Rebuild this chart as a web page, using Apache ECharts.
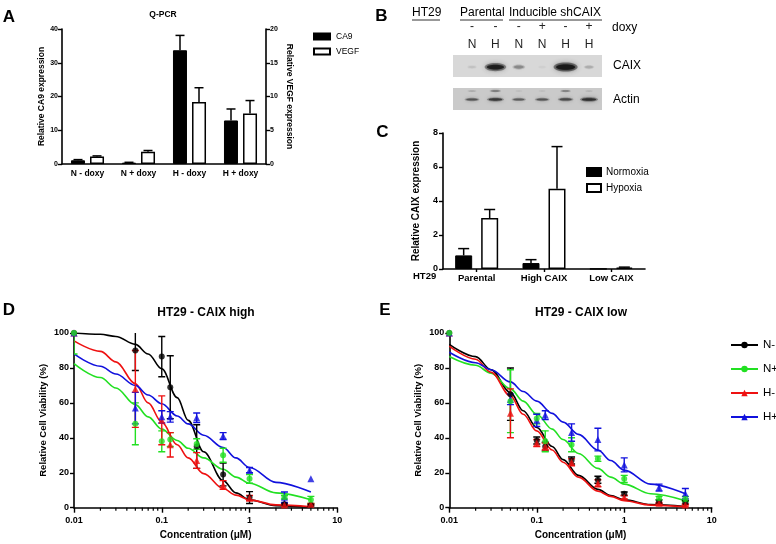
<!DOCTYPE html>
<html><head><meta charset="utf-8">
<script src="https://cdn.jsdelivr.net/npm/echarts@6/dist/echarts.min.js"></script>
<style>html,body{margin:0;padding:0;background:#fff}#c{width:776px;height:544px}</style>
</head><body><div id="c"></div>
<script>
// ---------- Panel A : Q-PCR ----------
var qpcrCats = ['N - doxy', 'N + doxy', 'H - doxy', 'H + doxy'];
var ca9 = [1.1, 0.4, 33.7, 12.9];
var ca9Err = [0.2, 0.1, 4.4, 3.4];
var vegf = [1.1, 1.8, 9.2, 7.5];
var vegfErr = [0.1, 0.2, 2.1, 1.9];

// ---------- Panel B : western blot ----------
var laneDoxy = ['-', '-', '-', '+', '-', '+'];
var laneCond = ['N', 'H', 'N', 'N', 'H', 'H'];
var caixBand = [0.08, 0.85, 0.28, 0.03, 1.0, 0.15];
var actinBand = [0.5, 0.65, 0.45, 0.5, 0.55, 0.72];
var actinUpper = [0.15, 0.35, 0.06, 0.06, 0.32, 0.1];

// ---------- Panel C ----------
var caixCats = ['Parental', 'High CAIX', 'Low CAIX'];
var normoxia = [0.8, 0.35, 0.01];
var normoxiaErr = [0.4, 0.2, 0];
var hypoxia = [3.0, 4.72, 0.08];
var hypoxiaErr = [0.5, 2.48, 0.03];

// ---------- Panels D / E ----------
var conc = [0.01, 0.05, 0.1, 0.125, 0.25, 0.5, 1, 2.5, 5];
var fitConc = [0.01, 0.02, 0.03, 0.05, 0.07, 0.1, 0.15, 0.2, 0.3, 0.5, 0.7, 1, 2, 5];
var minorTicks = [0.02,0.03,0.04,0.05,0.06,0.07,0.08,0.09,0.2,0.3,0.4,0.5,0.6,0.7,0.8,0.9,2,3,4,5,6,7,8,9];

// D: HT29 - CAIX high
var dNminus = [100, 90, 86.5, 69, 35, 19, 5.8, 2, 1.5];
var dNminusErr = [0, 11.5, 11.5, 18, 12.5, 6.5, 3.4, 0.5, 0.5];
var dNplus = [100, 48, 38, 39, 36.5, 30, 16.5, 6, 4.5];
var dNplusErr = [12, 12, 6, 4, 3, 4, 2.5, 1, 2];
var dHminus = [100, 68, 50, 36, 27, 13, 5.5, 1.5, 2];
var dHminusErr = [0, 22, 14, 7, 4.5, 2.5, 1.5, 0.5, 0.5];
var dHplus = [100, 57, 52, 52, 51.5, 41, 21.5, 6, 16.5];
var dHplusErr = [0, 9, 3.5, 3, 2.7, 2, 1.5, 3, 0];
var dFitNminus = [100, 99.3, 98, 93.5, 88, 79.5, 63, 50, 32, 15.5, 8.5, 4.5, 1.2, 0.3];
var dFitNplus = [82.5, 74.5, 68.5, 59, 52, 45, 38.5, 34, 28.5, 22, 17.5, 14, 8.5, 4.5];
var dFitHminus = [95.5, 89.5, 83.5, 71, 60, 49, 36, 28.5, 19.5, 11, 7.2, 4.5, 1.6, 0.5];
var dFitHplus = [88, 81, 76.5, 70, 64.5, 59.5, 52.5, 48, 41.5, 34.5, 28.5, 23, 14.5, 9];

// E: HT29 - CAIX low
var eNminus = [100, 65, 38.5, 35, 27, 16, 8, 3.5, 3];
var eNminusErr = [0, 15, 2, 2.5, 2, 2, 1, 1, 1];
var eNplus = [100, 61, 51, 38, 36, 28, 16.5, 5.5, 5];
var eNplusErr = [0, 18, 3, 6, 4, 1.5, 2, 1, 1.5];
var eHminus = [100, 54, 37, 35, 26, 14, 6, 2.5, 1.5];
var eHminusErr = [0, 14, 2, 2, 2, 2, 1, 0.5, 0.5];
var eHplus = [100, 62, 50, 53, 43, 39, 24.5, 11.5, 8];
var eHplusErr = [0, 3, 3.5, 2.5, 5, 6.5, 4, 2, 3];
var eFitNminus = [93.5, 86.5, 79, 66, 55.5, 46, 35, 27.5, 18.5, 10.5, 7, 4.5, 1.8, 0.7];
var eFitNplus = [86.5, 81.5, 77, 68, 61, 53.5, 45, 39, 31, 22.5, 17.5, 13.5, 8, 4];
var eFitHminus = [92.5, 85, 77.5, 64, 53.5, 44, 33, 26, 17.5, 9.5, 6.5, 4, 1.5, 0.5];
var eFitHplus = [89, 83, 79, 72, 66.5, 61, 54, 49, 42, 33, 27, 21.5, 13.5, 8];

var groupNames = ['N-', 'N+', 'H-', 'H+'];
var groupColors = ['#000000', '#22e022', '#ee1111', '#1111dd'];
var groupSymbols = ['circle', 'circle', 'triangle', 'triangle'];

// ---------- helpers ----------
var F = "'Liberation Sans', Arial, Helvetica, sans-serif";
function zip(a, b) { return a.map(function (v, i) { return [b[i], v]; }); }
function zip3(x, y, e) { return x.map(function (v, i) { return [v, y[i], e[i]]; }); }
function idx3(y, e) { return y.map(function (v, i) { return [i, v, e[i]]; }); }

function barErr(name, xi, yi, vals, errs, off, cap) {
  return {
    name: name, type: 'custom', xAxisIndex: xi, yAxisIndex: yi, silent: true, z: 5,
    data: idx3(vals, errs),
    renderItem: function (params, api) {
      var e = api.value(2); if (!e) return;
      var lo = api.coord([api.value(0), api.value(1)]);
      var hi = api.coord([api.value(0), api.value(1) + e]);
      var x = lo[0] + off, st = { stroke: '#000', lineWidth: 1.5 };
      return { type: 'group', children: [
        { type: 'line', shape: { x1: x, y1: lo[1], x2: x, y2: hi[1] }, style: st },
        { type: 'line', shape: { x1: x - cap / 2, y1: hi[1], x2: x + cap / 2, y2: hi[1] }, style: st }
      ] };
    }
  };
}
function ptErr(name, xi, yi, vals, errs, color) {
  return {
    name: name, type: 'custom', xAxisIndex: xi, yAxisIndex: yi, silent: true, z: 3, clip: true,
    data: zip3(conc, vals, errs),
    renderItem: function (params, api) {
      var e = api.value(2); if (!e) return;
      var lo = api.coord([api.value(0), api.value(1) - e]);
      var hi = api.coord([api.value(0), api.value(1) + e]);
      var st = { stroke: color, lineWidth: 1.4 }, c = 3.5;
      return { type: 'group', children: [
        { type: 'line', shape: { x1: lo[0], y1: lo[1], x2: hi[0], y2: hi[1] }, style: st },
        { type: 'line', shape: { x1: hi[0] - c, y1: hi[1], x2: hi[0] + c, y2: hi[1] }, style: st },
        { type: 'line', shape: { x1: lo[0] - c, y1: lo[1], x2: lo[0] + c, y2: lo[1] }, style: st }
      ] };
    }
  };
}
function band(name, xi, yi, levels, yFrac, baseW, baseH) {
  return {
    name: name, type: 'custom', xAxisIndex: xi, yAxisIndex: yi, silent: true, z: 3,
    data: levels.map(function (v, i) { return [i, v]; }),
    renderItem: function (params, api) {
      var lv = api.value(1); if (lv <= 0.02) return;
      var c = api.coord([api.value(0), yFrac]);
      var rx = baseW * (0.35 + 0.65 * lv) / 2, ry = baseH * (0.4 + 0.6 * lv) / 2;
      var col = 'rgba(25,25,25,' + Math.min(1, lv) + ')';
      return { type: 'group', children: [
        { type: 'ellipse', shape: { cx: c[0], cy: c[1], rx: rx, ry: ry },
          style: { fill: 'rgba(40,40,40,' + (lv * 0.5) + ')', shadowBlur: 5, shadowColor: 'rgba(40,40,40,' + (lv * 0.6) + ')' } },
        { type: 'ellipse', shape: { cx: c[0], cy: c[1], rx: rx * 0.8, ry: ry * 0.6 },
          style: { fill: col, shadowBlur: 3, shadowColor: col } }
      ] };
    }
  };
}
function minorTickSeries(xi, yi) {
  return {
    type: 'custom', name: 'minor' + xi, xAxisIndex: xi, yAxisIndex: yi, silent: true, clip: false, z: 4,
    data: minorTicks.map(function (v) { return [v, 0]; }),
    renderItem: function (params, api) {
      var p = api.coord([api.value(0), 0]);
      return { type: 'line', shape: { x1: p[0], y1: p[1], x2: p[0], y2: p[1] + 3 }, style: { stroke: '#000', lineWidth: 1.2 } };
    }
  };
}
function doseSeries(xi, yi, pts, errs, fits, tag) {
  var s = [];
  for (var g = 0; g < 4; g++) {
    s.push({ name: groupNames[g], type: 'line', xAxisIndex: xi, yAxisIndex: yi, data: zip(fits[g], fitConc),
      smooth: 0.35, smoothMonotone: 'x', showSymbol: false, symbol: groupSymbols[g], symbolSize: 6,
      lineStyle: { color: groupColors[g], width: 1.6 }, itemStyle: { color: groupColors[g] }, z: 2, silent: true });
  }
  for (var g2 = 0; g2 < 4; g2++) s.push(ptErr(groupNames[g2] + ' err ' + tag, xi, yi, pts[g2], errs[g2], groupColors[g2]));
  for (var g3 = 0; g3 < 4; g3++) {
    s.push({ name: groupNames[g3] + ' pts ' + tag, type: 'scatter', xAxisIndex: xi, yAxisIndex: yi,
      data: zip(pts[g3], conc), symbol: groupSymbols[g3], symbolSize: g3 < 2 ? 6 : 7,
      itemStyle: { color: groupColors[g3] }, z: g3 === 1 ? 6 : 4, silent: true });
  }
  return s;
}
function txt(t, x, y, size, bold, align) {
  return { type: 'text', x: x, y: y, silent: true, z: 10,
    style: { text: t, fill: '#000', font: (bold ? 'bold ' : '') + size + 'px ' + F, align: align || 'center', verticalAlign: 'middle' } };
}
function uline(x1, x2, y) {
  return { type: 'line', silent: true, shape: { x1: x1, y1: y, x2: x2, y2: y }, style: { stroke: '#333', lineWidth: 1 } };
}

var axLine = { show: true, lineStyle: { color: '#000', width: 1.6 } };
var axTick = { show: true, length: 4, lineStyle: { color: '#000', width: 1.4 } };
function lbl(size, margin) { return { color: '#000', fontFamily: F, fontWeight: 'bold', fontSize: size, margin: margin }; }
function nm(size) { return { color: '#000', fontFamily: F, fontWeight: 'bold', fontSize: size }; }
var hidden = { show: false };

var option = {
  animation: false,
  backgroundColor: '#fff',
  grid: [
    { left: 62, top: 29, width: 204, height: 135 },
    { left: 460.3, top: 55, width: 140.4, height: 22 },
    { left: 460.3, top: 88, width: 140.4, height: 22 },
    { left: 443, top: 133, width: 202, height: 136 },
    { left: 74, top: 333, width: 263.3, height: 174.7 },
    { left: 449.3, top: 333, width: 262.4, height: 174.7 }
  ],
  xAxis: [
    { gridIndex: 0, type: 'category', data: qpcrCats, axisLine: axLine, axisTick: hidden, axisLabel: lbl(8.5, 5) },
    { gridIndex: 1, type: 'category', data: laneCond, position: 'top', axisLine: hidden, axisTick: hidden,
      axisLabel: { color: '#222', fontFamily: F, fontSize: 12, margin: 4 } },
    { gridIndex: 1, type: 'category', data: laneDoxy, position: 'top', offset: 18, axisLine: hidden, axisTick: hidden,
      axisLabel: { color: '#222', fontFamily: F, fontSize: 12, margin: 4 } },
    { gridIndex: 2, type: 'category', data: laneCond, show: false },
    { gridIndex: 3, type: 'category', data: caixCats, axisLine: axLine,
      axisTick: { show: true, alignWithLabel: true, length: 3, lineStyle: { color: '#000', width: 1.4 } }, axisLabel: lbl(9.5, 4) },
    { gridIndex: 4, type: 'log', logBase: 10, min: 0.01, max: 10, axisLine: axLine,
      axisTick: { show: true, length: 5, lineStyle: { color: '#000', width: 1.4 } }, splitLine: hidden,
      axisLabel: lbl(9, 8), name: 'Concentration (\u03bcM)', nameLocation: 'middle', nameGap: 23, nameTextStyle: nm(10) },
    { gridIndex: 5, type: 'log', logBase: 10, min: 0.01, max: 10, axisLine: axLine,
      axisTick: { show: true, length: 5, lineStyle: { color: '#000', width: 1.4 } }, splitLine: hidden,
      axisLabel: lbl(9, 8), name: 'Concentration (\u03bcM)', nameLocation: 'middle', nameGap: 23, nameTextStyle: nm(10) }
  ],
  yAxis: [
    { gridIndex: 0, type: 'value', min: 0, max: 40, interval: 10, axisLine: axLine, axisTick: axTick, splitLine: hidden,
      axisLabel: lbl(7, 4), name: 'Relative CA9 expression', nameLocation: 'middle', nameGap: 15, nameTextStyle: nm(8.5) },
    { gridIndex: 0, type: 'value', min: 0, max: 20, interval: 5, position: 'right', axisLine: axLine, axisTick: axTick, splitLine: hidden,
      axisLabel: lbl(7, 4), name: 'Relative VEGF expression', nameLocation: 'middle', nameRotate: -90, nameGap: 19, nameTextStyle: nm(8.5) },
    { gridIndex: 1, type: 'value', min: 0, max: 1, show: false },
    { gridIndex: 2, type: 'value', min: 0, max: 1, show: false },
    { gridIndex: 3, type: 'value', min: 0, max: 8, interval: 2, axisLine: axLine, axisTick: axTick, splitLine: hidden,
      axisLabel: lbl(9, 5), name: 'Relative CAIX expression', nameLocation: 'middle', nameGap: 22, nameTextStyle: nm(10) },
    { gridIndex: 4, type: 'value', min: 0, max: 100, interval: 20, axisLine: axLine, axisTick: axTick, splitLine: hidden,
      axisLabel: lbl(9, 5), name: 'Relative Cell Viability (%)', nameLocation: 'middle', nameGap: 26, nameTextStyle: nm(9.5) },
    { gridIndex: 5, type: 'value', min: 0, max: 100, interval: 20, axisLine: axLine, axisTick: axTick, splitLine: hidden,
      axisLabel: lbl(9, 5), name: 'Relative Cell Viability (%)', nameLocation: 'middle', nameGap: 26, nameTextStyle: nm(9.5) }
  ],
  legend: [
    { data: ['CA9', 'VEGF'], left: 313, top: 32, orient: 'vertical', icon: 'rect', itemWidth: 16, itemHeight: 6, itemGap: 6,
      padding: 0, selectedMode: false, textStyle: { fontFamily: F, fontSize: 8.5, color: '#000', padding: [0, 0, 0, 1] } },
    { data: ['Normoxia', 'Hypoxia'], left: 586, top: 167, orient: 'vertical', icon: 'rect', itemWidth: 14, itemHeight: 8, itemGap: 6,
      padding: 0, selectedMode: false, textStyle: { fontFamily: F, fontSize: 10, color: '#000' } },
    { data: groupNames, left: 730, top: 339, orient: 'vertical', itemWidth: 27, itemHeight: 8, itemGap: 12,
      padding: 0, selectedMode: false, textStyle: { fontFamily: F, fontSize: 11.5, color: '#000' } }
  ],
  graphic: [
    { type: 'rect', silent: true, z: 0, shape: { x: 453, y: 55, width: 149, height: 22 }, style: { fill: '#d8d8d8' } },
    { type: 'rect', silent: true, z: 0, shape: { x: 453, y: 88, width: 149, height: 22 }, style: { fill: '#cacaca' } },
    txt('A', 9, 17.5, 17, true), txt('B', 381.5, 16, 17, true), txt('C', 382.5, 132.5, 17, true),
    txt('D', 9, 310.5, 17, true), txt('E', 385, 310.5, 17, true),
    txt('Q-PCR', 163, 15, 8.5, true),
    txt('HT29 - CAIX high', 206, 313, 12, true), txt('HT29 - CAIX low', 581, 313, 12, true),
    txt('HT29', 412, 13, 12, false, 'left'), uline(412, 440, 20),
    txt('Parental', 460, 13, 12, false, 'left'), uline(460, 503, 20),
    txt('Inducible shCAIX', 509, 13, 12, false, 'left'), uline(509, 602, 20),
    txt('doxy', 612, 28, 12, false, 'left'),
    txt('CAIX', 613, 66, 12, false, 'left'), txt('Actin', 613, 100, 12, false, 'left'),
    txt('HT29', 413, 276, 9.5, true, 'left')
  ],
  series: [
    { name: 'CA9', type: 'bar', xAxisIndex: 0, yAxisIndex: 0, data: ca9, barWidth: 14, barGap: '36%',
      itemStyle: { color: '#000', borderColor: '#000', borderWidth: 1 }, silent: true },
    { name: 'VEGF', type: 'bar', xAxisIndex: 0, yAxisIndex: 1, data: vegf, barWidth: 14, barGap: '36%',
      itemStyle: { color: '#fff', borderColor: '#000', borderWidth: 1.5 }, silent: true },
    barErr('CA9 err', 0, 0, ca9, ca9Err, -9.5, 9),
    barErr('VEGF err', 0, 1, vegf, vegfErr, 9.5, 9),
    band('caix', 1, 2, caixBand, 0.45, 24, 9),
    band('actin', 3, 3, actinBand, 0.48, 22, 5),
    band('actin upper', 3, 3, actinUpper, 0.86, 20, 4),
    { name: 'Normoxia', type: 'bar', xAxisIndex: 4, yAxisIndex: 4, data: normoxia, barWidth: 17, barGap: '53%',
      itemStyle: { color: '#000', borderColor: '#000', borderWidth: 1 }, silent: true },
    { name: 'Hypoxia', type: 'bar', xAxisIndex: 4, yAxisIndex: 4, data: hypoxia, barWidth: 17, barGap: '53%',
      itemStyle: { color: '#fff', borderColor: '#000', borderWidth: 1.5 }, silent: true },
    barErr('Normoxia err', 4, 4, normoxia, normoxiaErr, -13, 11),
    barErr('Hypoxia err', 4, 4, hypoxia, hypoxiaErr, 13, 11),
    minorTickSeries(5, 5), minorTickSeries(6, 6)
  ].concat(
    doseSeries(5, 5, [dNminus, dNplus, dHminus, dHplus], [dNminusErr, dNplusErr, dHminusErr, dHplusErr],
      [dFitNminus, dFitNplus, dFitHminus, dFitHplus], 'D'),
    doseSeries(6, 6, [eNminus, eNplus, eHminus, eHplus], [eNminusErr, eNplusErr, eHminusErr, eHplusErr],
      [eFitNminus, eFitNplus, eFitHminus, eFitHplus], 'E')
  )
};
var chart = echarts.init(document.getElementById('c'), null, { renderer: 'canvas' });
chart.setOption(option);
</script></body></html>
